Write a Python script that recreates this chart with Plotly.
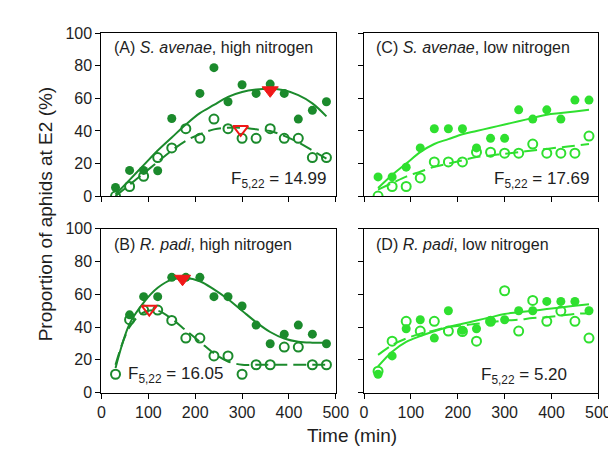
import plotly.graph_objects as go

W, H = 616, 461

time = [30, 60, 90, 120, 150, 180, 210, 240, 270, 300, 330, 360, 390, 420, 450, 480]

# Panel A: S. avenae, high nitrogen
a_time_filled = [30, 60, 90, 120, 150, 210, 240, 270, 300, 330, 360, 390, 420, 450, 480]
a_filled = [5.3, 15.8, 15.8, 15.6, 47.7, 63.1, 78.9, 58.0, 68.4, 63.1, 68.8, 63.1, 47.3, 52.7, 58.0]
a_open = [0, 5.9, 12.2, 23.7, 29.6, 41.4, 35.5, 47.3, 41.4, 35.5, 35.5, 41.4, 35.5, 35.5, 23.7, 23.7]
a_fit_solid = [1, 10, 19, 28, 36, 44, 51, 56, 61, 64, 65.5, 66, 65, 62, 57, 49]
a_fit_dash = [0, 7, 14, 21, 28, 34, 38, 41, 42, 42, 41, 40, 37, 33, 28, 23]
a_peak_filled = (360, 65)
a_peak_open = (297, 41)

# Panel B: R. padi, high nitrogen
b_time_filled = [60, 90, 120, 150, 180, 210, 240, 270, 300, 330, 360, 390, 420, 450, 480]
b_filled = [47.5, 58.6, 58.6, 70.4, 70.4, 70.4, 58.6, 58.6, 52.9, 41.2, 29.8, 35.7, 41.2, 35.7, 29.8]
b_open = [11.2, 44.5, 50.4, 50.4, 44.1, 33.3, 33.3, 22.4, 22.4, 11.2, 17, 17, 27.8, 27.8, 17, 17]
b_fit_solid = [15, 42, 55, 64, 69, 70, 68, 63, 57, 50, 43, 37, 33, 31, 30.5, 30.5]
b_fit_dash = [17, 40, 49, 50, 45, 38, 31, 24, 19, 17, 17, 17, 17, 17, 17, 17]
b_peak_filled = (173, 69.5)
b_peak_open = (102, 51)

# Panel C: S. avenae, low nitrogen
c_filled = [11.8, 11.8, 17.8, 29.6, 41.4, 41.4, 41.4, 29.6, 35.5, 35.5, 53, 47.3, 53, 47.3, 59, 59]
c_open = [0, 5.9, 5.9, 11.2, 21, 21, 21, 27, 27, 26.4, 26.4, 32, 26.4, 26.4, 26.4, 36.9]
c_fit_solid = [5, 13, 20, 27, 32, 35, 38, 40, 42, 44, 46, 48, 50, 51, 52, 53]
c_fit_dash = [4, 8, 12, 15, 18, 20, 22, 24, 25, 26, 27, 28, 29, 30, 31, 32]

# Panel D: R. padi, low nitrogen
d_filled = [11.2, 22.4, 39, 44.5, 33.3, 50, 38, 39, 43.5, 44.5, 50, 50, 55.7, 55.7, 55.7, 50]
d_open = [13.1, 31.4, 43.5, 37.6, 43.5, 37.6, 37.3, 31.4, 43.5, 62.2, 37.6, 56.3, 43.5, 49.8, 43.5, 33.3]
d_fit_solid = [16, 25, 31, 34.5, 37.5, 40, 42, 44, 46, 48, 49, 50, 51, 52, 53, 54]
d_fit_dash = [23, 29, 33, 36, 38, 40, 41, 42, 43, 44, 44.5, 45.5, 46, 47, 48, 48.5]

panel_titles = ["(A) <i>S. avenae</i>, high nitrogen", "(B) <i>R. padi</i>, high nitrogen",
                "(C) <i>S. avenae</i>, low nitrogen", "(D) <i>R. padi</i>, low nitrogen"]
f_texts = ["F<sub>5,22</sub> = 14.99", "F<sub>5,22</sub> = 16.05",
           "F<sub>5,22</sub> = 17.69", "F<sub>5,22</sub> = 5.20"]

x_ticks = [0, 100, 200, 300, 400, 500]
y_ticks = [0, 20, 40, 60, 80, 100]

DARK = "#1b8a2c"
LIGHT = "#2fe02f"
RED = "#f01818"
FONT = "Liberation Sans, Arial, sans-serif"
TXT = "#1e1e1e"

# pixel geometry -> paper domains
left_dom = [92 / W, 333 / W]
right_dom = [362 / W, 603 / W]
top_dom = [1 - 187 / H, 1 - 18 / H]
bot_dom = [1 - 391 / H, 1 - 221 / H]

fig = go.Figure()

panels = [
    dict(i=1, xd=left_dom, yd=top_dom, col=DARK, tf=a_time_filled, f=a_filled, o=a_open,
         s=a_fit_solid, d=a_fit_dash, pk=(a_peak_filled, a_peak_open), fx=484, fy=10, fanchor="right",
         xl=False, yl=True, ty=91),
    dict(i=2, xd=left_dom, yd=bot_dom, col=DARK, tf=b_time_filled, f=b_filled, o=b_open,
         s=b_fit_solid, d=b_fit_dash, pk=(b_peak_filled, b_peak_open), fx=52, fy=11, fanchor="left",
         xl=True, yl=True, ty=90.5),
    dict(i=3, xd=right_dom, yd=top_dom, col=LIGHT, tf=time, f=c_filled, o=c_open,
         s=c_fit_solid, d=c_fit_dash, pk=None, fx=484, fy=10, fanchor="right",
         xl=False, yl=False, ty=91),
    dict(i=4, xd=right_dom, yd=bot_dom, col=LIGHT, tf=time, f=d_filled, o=d_open,
         s=d_fit_solid, d=d_fit_dash, pk=None, fx=438, fy=10, fanchor="right",
         xl=True, yl=False, ty=90.5),
]

for k, p in enumerate(panels):
    i = p["i"]
    xa = "x" if i == 1 else f"x{i}"
    ya = "y" if i == 1 else f"y{i}"
    fig.add_trace(go.Scatter(x=time, y=p["s"], mode="lines", xaxis=xa, yaxis=ya,
                             line=dict(color=p["col"], width=2, shape="spline", smoothing=1.0),
                             showlegend=False, hoverinfo="skip"))
    fig.add_trace(go.Scatter(x=time, y=p["d"], mode="lines", xaxis=xa, yaxis=ya,
                             line=dict(color=p["col"], width=2, shape="spline", smoothing=1.0,
                                       dash="13px,6px"),
                             showlegend=False, hoverinfo="skip"))
    fig.add_trace(go.Scatter(x=p["tf"], y=p["f"], mode="markers", xaxis=xa, yaxis=ya,
                             marker=dict(symbol="circle", size=9, color=p["col"]),
                             showlegend=False))
    fig.add_trace(go.Scatter(x=time, y=p["o"], mode="markers", xaxis=xa, yaxis=ya,
                             marker=dict(symbol="circle-open", size=9, color=p["col"],
                                         line=dict(width=2, color=p["col"])),
                             showlegend=False))
    if p["pk"]:
        (pfx, pfy), (pox, poy) = p["pk"]
        fig.add_trace(go.Scatter(x=[pfx], y=[pfy], mode="markers", xaxis=xa, yaxis=ya,
                                 marker=dict(symbol="triangle-down", size=14, color=RED,
                                             line=dict(width=1, color=RED)),
                                 showlegend=False))
        fig.add_trace(go.Scatter(x=[pox], y=[poy], mode="markers", xaxis=xa, yaxis=ya,
                                 marker=dict(symbol="triangle-down-open", size=13, color=RED,
                                             line=dict(width=2, color=RED)),
                                 showlegend=False))

    axcommon = dict(showline=True, linecolor="black", linewidth=1.2, mirror=True,
                    ticks="outside", ticklen=5, tickwidth=1.2, tickcolor="black",
                    showgrid=False, zeroline=False,
                    tickfont=dict(family=FONT, size=16, color=TXT))
    xkey = "xaxis" if i == 1 else f"xaxis{i}"
    ykey = "yaxis" if i == 1 else f"yaxis{i}"
    fig.update_layout(**{
        xkey: dict(domain=p["xd"], range=[0, 500], tickvals=x_ticks,
                   showticklabels=p["xl"], anchor=ya, **axcommon),
        ykey: dict(domain=p["yd"], range=[0, 100], tickvals=y_ticks,
                   showticklabels=p["yl"], anchor=xa, **axcommon),
    })
    fig.add_annotation(x=22, y=p["ty"], xref=xa, yref=ya,
                       text=panel_titles[k], showarrow=False, xanchor="left", yanchor="middle",
                       font=dict(family=FONT, size=16, color=TXT))
    fig.add_annotation(x=p["fx"], y=p["fy"], xref=xa, yref=ya,
                       text=f_texts[k], showarrow=False, xanchor=p["fanchor"], yanchor="middle",
                       font=dict(family=FONT, size=17, color=TXT))

fig.add_annotation(x=22 / W, y=1 - 205 / H, xref="paper", yref="paper",
                   text="Proportion of aphids at E2 (%)", textangle=-90, showarrow=False,
                   font=dict(family=FONT, size=19, color=TXT))
fig.add_annotation(x=350 / W, y=1 - 449 / H, xref="paper", yref="paper",
                   text="Time (min)", showarrow=False,
                   font=dict(family=FONT, size=19, color=TXT))

fig.update_layout(width=W, height=H, margin=dict(l=0, r=0, t=0, b=0),
                  paper_bgcolor="white", plot_bgcolor="white", showlegend=False)

fig.write_html("out.html")
